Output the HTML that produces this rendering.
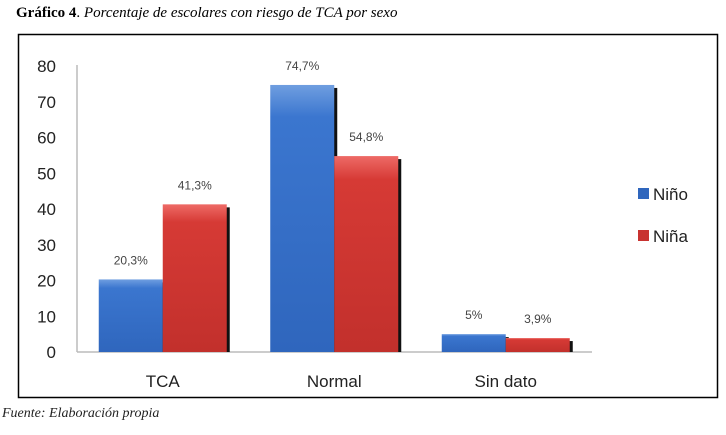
<!DOCTYPE html>
<html><head><meta charset="utf-8"><style>
body{margin:0;background:#fff;width:726px;height:430px;overflow:hidden;font-family:"Liberation Sans",sans-serif}
</style></head><body>
<svg width="726" height="430" xmlns="http://www.w3.org/2000/svg">
<defs>
<linearGradient id="gb" x1="0" x2="0" y1="0" y2="1"><stop offset="0" stop-color="#6f9ee0"/><stop offset="0.12" stop-color="#3b76cf"/><stop offset="1" stop-color="#2f66bd"/></linearGradient>
<linearGradient id="gr" x1="0" x2="0" y1="0" y2="1"><stop offset="0" stop-color="#ee6a66"/><stop offset="0.12" stop-color="#d63a35"/><stop offset="1" stop-color="#c2302c"/></linearGradient>
</defs>
<text x="16" y="17" font-family="Liberation Serif, serif" font-size="15"><tspan font-weight="bold">Gráfico 4</tspan>. <tspan font-style="italic">Porcentaje de escolares con riesgo de TCA por sexo</tspan></text>
<rect x="18.5" y="34.5" width="699" height="363" fill="#fff" stroke="#000" stroke-width="1.5"/>
<g id="g"></g>
<text x="2" y="417" font-family="Liberation Serif, serif" font-style="italic" font-size="14" fill="#222">Fuente: Elaboración propia</text>
</svg>
<script>
const categories=["TCA","Normal","Sin dato"];
const nino=[20.3,74.7,5];
const nina=[41.3,54.8,3.9];
const labelsNino=["20,3%","74,7%","5%"];
const labelsNina=["41,3%","54,8%","3,9%"];
const ticks=[0,10,20,30,40,50,60,70,80];
const NS="http://www.w3.org/2000/svg";
const g=document.getElementById('g');
const y=v=>352-v*(286/80);
const x0=77,catW=171.5;
function el(t,a){const e=document.createElementNS(NS,t);for(const k in a)e.setAttribute(k,a[k]);g.appendChild(e);return e;}
const ax=el('line',{x1:x0,x2:x0,y1:65,y2:352,stroke:'#bbb','stroke-width':1.5});


const bx=el('line',{x1:x0,x2:592,y1:352,y2:352,stroke:'#bbb','stroke-width':1.5});


ticks.forEach(t=>{const e=el('text',{x:56,y:y(t)+6,'text-anchor':'end','font-size':17,fill:'#222'});e.textContent=t;

});
categories.forEach((c,i)=>{
const cx=x0+catW*(i+0.5);const bw=64;
[[nino,labelsNino,'url(#gb)',cx-bw,'nino'],[nina,labelsNina,'url(#gr)',cx,'nina']].forEach(([d,l,f,bxp,n])=>{
const top=y(d[i]);
const sh=el('rect',{x:bxp+3,y:top+3,width:bw,height:352-top-3,fill:'#111'});


const r=el('rect',{x:bxp,y:top,width:bw,height:352-top,fill:f});


const t=el('text',{x:bxp+bw/2,y:top-15,'text-anchor':'middle','font-size':12,fill:'#444'});t.textContent=l[i];


});
const ct=el('text',{x:cx,y:387,'text-anchor':'middle','font-size':17,fill:'#222'});ct.textContent=c;


});
[['Niño','#2f66bd',198],['Niña','#c83330',240]].forEach(([n,c,yy])=>{
const s=el('rect',{x:638,y:yy-10,width:11,height:11,fill:c});


const t=el('text',{x:653,y:yy+2,'font-size':17,fill:'#222'});t.textContent=n;


});
</script>
</body></html>
